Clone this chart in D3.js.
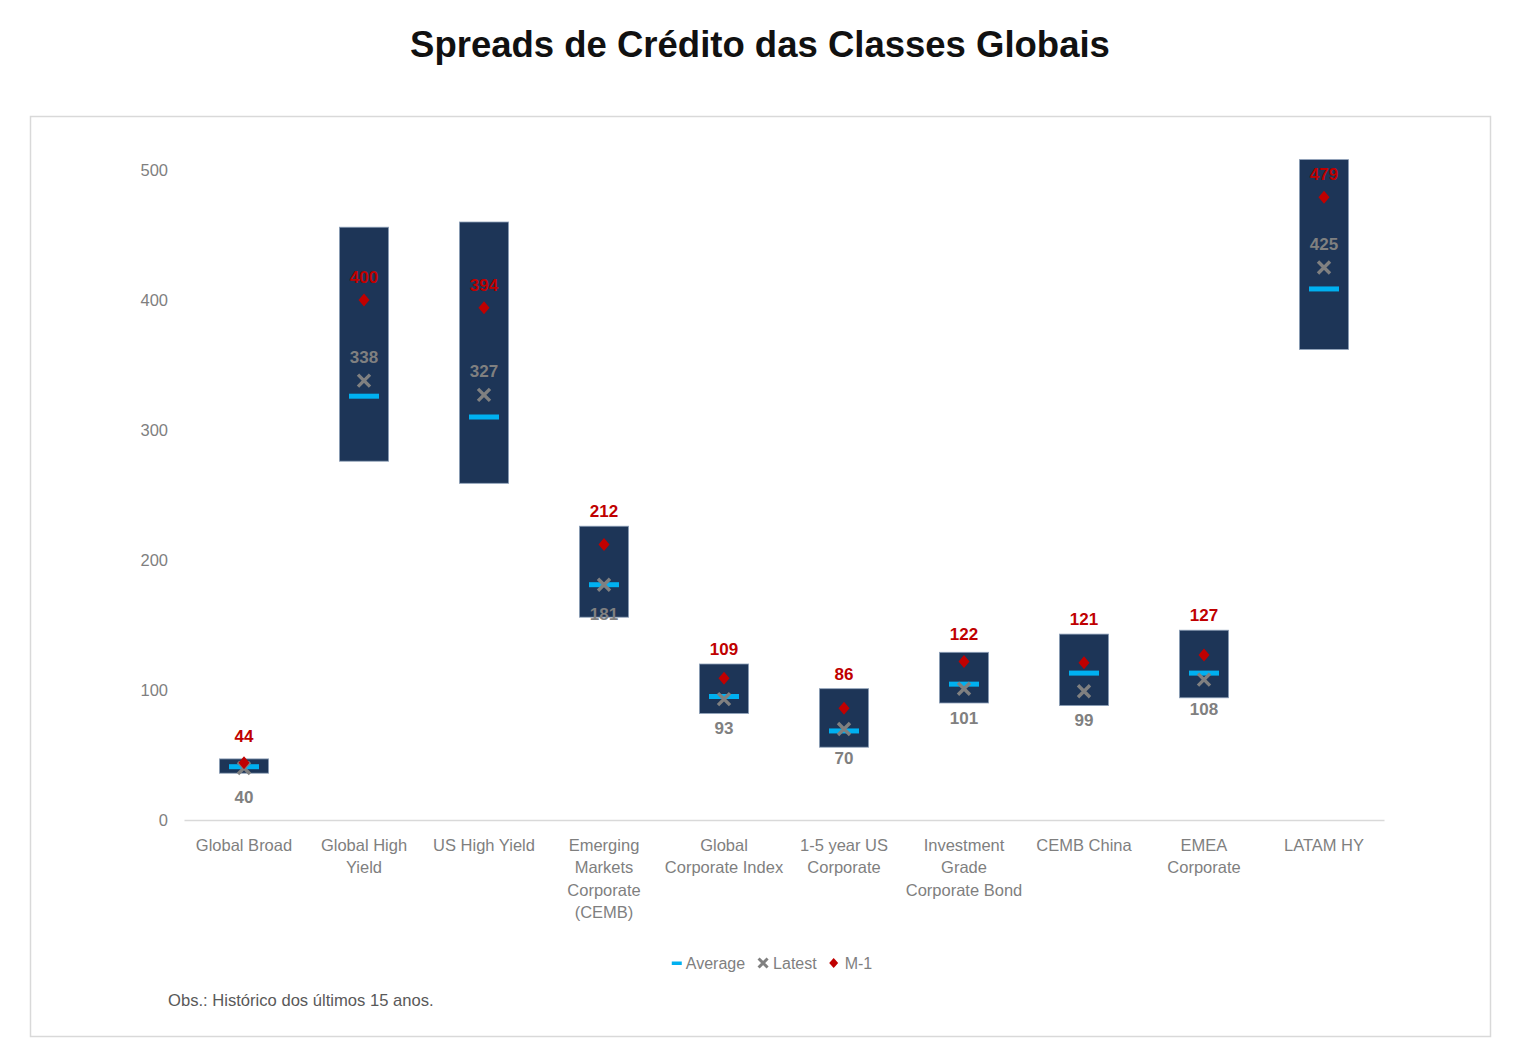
<!DOCTYPE html>
<html>
<head>
<meta charset="utf-8">
<script src="https://cdn.jsdelivr.net/npm/d3@7"></script>
<style>
  html, body { margin: 0; padding: 0; background: #ffffff; }
  svg { display: block; }
</style>
</head>
<body>
<svg id="chart" width="1520" height="1052"></svg>
<script>
// ---------- DATA ----------
const chartTitle = "Spreads de Crédito das Classes Globais";
const categories = ["Global Broad", "Global High Yield", "US High Yield", "Emerging Markets Corporate (CEMB)", "Global Corporate Index", "1-5 year US Corporate", "Investment Grade Corporate Bond", "CEMB China", "EMEA Corporate", "LATAM HY"];
const categoryLines = [["Global Broad"], ["Global High", "Yield"], ["US High Yield"], ["Emerging", "Markets", "Corporate", "(CEMB)"], ["Global", "Corporate Index"], ["1-5 year US", "Corporate"], ["Investment", "Grade", "Corporate Bond"], ["CEMB China"], ["EMEA", "Corporate"], ["LATAM HY"]];
const minValues     = [36, 276, 259, 156, 82, 56, 90, 88, 94, 362];
const maxValues     = [47, 456, 460, 226, 120, 101, 129, 143, 146, 508];
const averageValues = [41, 326, 310, 181, 95, 68.5, 104.5, 113, 113, 408.5];
const latestValues  = [40, 338, 327, 181, 93, 70, 101, 99, 108, 425];
const m1Values      = [44, 400, 394, 212, 109, 86, 122, 121, 127, 479];
const yTicks = [0, 100, 200, 300, 400, 500];
const legendLabels = ["Average", "Latest", "M-1"];
const footnote = "Obs.: Histórico dos últimos 15 anos.";

// ---------- STYLE ----------
const barColor = "#1d3557";
const avgColor = "#00b0f0";
const latestColor = "#808080";
const m1Color = "#c00000";
const narrowFont = "'Liberation Sans Narrow', 'Arial Narrow', 'Liberation Sans', sans-serif";
const mainFont = "'Liberation Sans', Arial, Helvetica, sans-serif";

const svg = d3.select("#chart");

svg.append("text")
  .attr("x", 760).attr("y", 57)
  .attr("text-anchor", "middle")
  .attr("font-family", mainFont)
  .attr("font-weight", "bold")
  .attr("font-size", 36.5)
  .attr("fill", "#111111")
  .text(chartTitle);

svg.append("rect")
  .attr("x", 30.5).attr("y", 116.5)
  .attr("width", 1460).attr("height", 920)
  .attr("fill", "#ffffff")
  .attr("stroke", "#d9d9d9").attr("stroke-width", 1.5);

const rows = categories.map((c, i) => ({
  cat: c, lines: categoryLines[i], min: minValues[i], max: maxValues[i],
  avg: averageValues[i], latest: latestValues[i], m1: m1Values[i]
}));

const x = d3.scaleBand().domain(categories).range([184, 1384]).padding(0);
const y = d3.scaleLinear().domain([0, 500]).range([820, 170]);
const cx = d => x(d.cat) + x.bandwidth() / 2;
const barW = x.bandwidth() * 0.41;

// y axis labels
const yAxis = d3.axisLeft(y).tickValues(yTicks).tickSize(0).tickPadding(0);
const yG = svg.append("g").attr("transform", "translate(168,0)").call(yAxis);
yG.select(".domain").remove();
yG.selectAll("text")
  .attr("font-family", mainFont).attr("font-size", 16.5).attr("fill", "#7f7f7f");

// x axis baseline
const xAxis = d3.axisBottom(x).tickSize(0).tickFormat("");
const xG = svg.append("g").attr("transform", `translate(0,${y(0)})`).call(xAxis);
xG.select(".domain").attr("stroke", "#d9d9d9").attr("stroke-width", 1.5);

// category labels
const catG = svg.append("g");
rows.forEach(d => {
  const t = catG.append("text")
    .attr("text-anchor", "middle")
    .attr("font-family", narrowFont).attr("font-size", 16.5).attr("fill", "#7f7f7f");
  d.lines.forEach((ln, k) => {
    t.append("tspan").attr("x", cx(d)).attr("y", 851 + k * 22.3).text(ln);
  });
});

// bars (min to max range)
svg.append("g").selectAll("rect").data(rows).join("rect")
  .attr("x", d => cx(d) - barW / 2)
  .attr("y", d => y(d.max))
  .attr("width", barW)
  .attr("height", d => y(d.min) - y(d.max))
  .attr("fill", barColor)
  .attr("stroke", "#8ea0b8").attr("stroke-width", 0.8);

// average dash
svg.append("g").selectAll("rect").data(rows).join("rect")
  .attr("x", d => cx(d) - 15)
  .attr("y", d => y(d.avg) - 2.5)
  .attr("width", 30).attr("height", 5)
  .attr("fill", avgColor);

// latest X markers
const xMark = (s) => `M${-s},${-s}L${s},${s}M${-s},${s}L${s},${-s}`;
svg.append("g").selectAll("path").data(rows).join("path")
  .attr("transform", d => `translate(${cx(d)},${y(d.latest)})`)
  .attr("d", xMark(6))
  .attr("stroke", latestColor).attr("stroke-width", 3.4).attr("fill", "none");

// M-1 diamonds
const diamond = "M0,-6.5L5.5,0L0,6.5L-5.5,0Z";
svg.append("g").selectAll("path").data(rows).join("path")
  .attr("transform", d => `translate(${cx(d)},${y(d.m1)})`)
  .attr("d", diamond)
  .attr("fill", m1Color);

// labels
const tall = d => (d.max - d.min) > 100;
svg.append("g").selectAll("text").data(rows).join("text")
  .attr("x", d => cx(d))
  .attr("y", d => {
    if (tall(d)) return y(d.m1) - 23 + 6;
    return Math.min(y(d.m1) - 27, y(d.max) - 15) + 6;
  })
  .attr("text-anchor", "middle")
  .attr("font-family", mainFont).attr("font-weight", "bold").attr("font-size", 17)
  .attr("fill", m1Color)
  .text(d => d3.format("d")(d.m1));

svg.append("g").selectAll("text").data(rows).join("text")
  .attr("x", d => cx(d))
  .attr("y", d => (tall(d) ? y(d.latest) - 24 : y(d.latest) + 29) + 6)
  .attr("text-anchor", "middle")
  .attr("font-family", mainFont).attr("font-weight", "bold").attr("font-size", 17)
  .attr("fill", latestColor)
  .text(d => d3.format("d")(d.latest));

// legend
const lg = svg.append("g");
let lx = 0;
const ly = 963;
const items = [];
legendLabels.forEach((lab, i) => {
  const g = lg.append("g");
  if (i === 0) g.append("rect").attr("x", 0).attr("y", -1.5).attr("width", 10).attr("height", 3.5).attr("fill", avgColor);
  if (i === 1) g.append("path").attr("transform", "translate(6,0)").attr("d", xMark(4.5)).attr("stroke", latestColor).attr("stroke-width", 3).attr("fill", "none");
  if (i === 2) g.append("path").attr("transform", "translate(5,0)").attr("d", "M0,-5L4.5,0L0,5L-4.5,0Z").attr("fill", m1Color);
  const t = g.append("text").attr("x", i === 0 ? 14 : 16).attr("y", 6)
    .attr("font-family", narrowFont).attr("font-size", 16).attr("fill", "#7f7f7f").text(lab);
  items.push({ g, w: (i === 0 ? 14 : 16) + t.node().getComputedTextLength() });
});
let total = items.reduce((s, it) => s + it.w, 0) + 12 * (items.length - 1);
lx = 772 - total / 2;
items.forEach(it => { it.g.attr("transform", `translate(${lx},${ly})`); lx += it.w + 12; });

svg.append("text")
  .attr("x", 168).attr("y", 1006)
  .attr("font-family", narrowFont).attr("font-size", 16.6).attr("fill", "#595959")
  .text(footnote);
</script>
</body>
</html>
